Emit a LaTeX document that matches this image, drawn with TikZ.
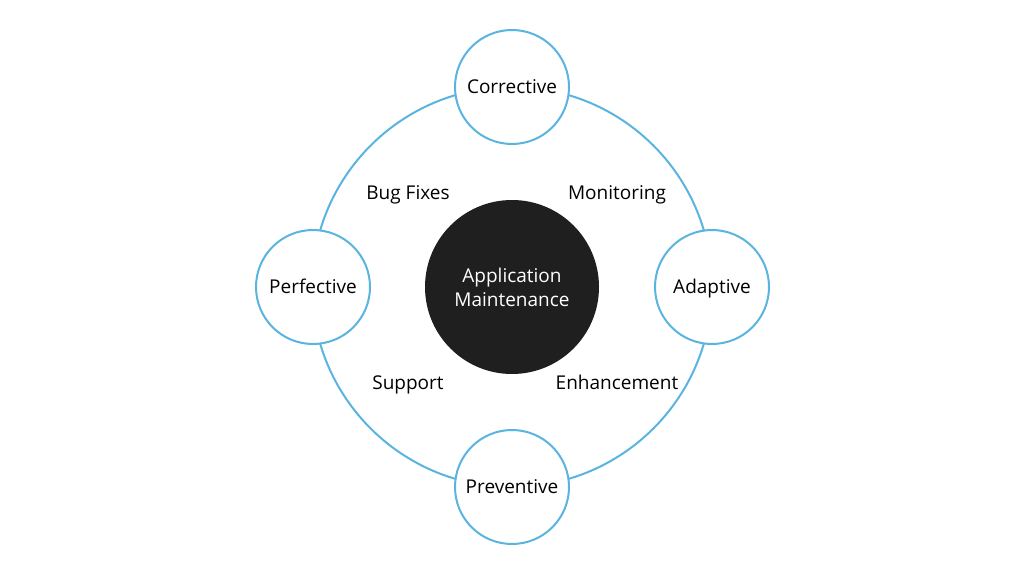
\documentclass[tikz,border=0pt]{standalone}
\usepackage{fontspec}
\setmainfont{Open Sans}
\definecolor{ringblue}{HTML}{5AB4E0}
\definecolor{hubdark}{HTML}{1F1F1F}
\begin{document}
\begin{tikzpicture}[x=1pt,y=-1pt,
  ring/.style={draw=ringblue,line width=2pt},
  txt/.style={font=\fontsize{19}{24}\selectfont},
  phase/.style={circle,ring,fill=white,minimum size=114pt,inner sep=0pt,txt,text height=17.5pt,text depth=4pt},
  hub/.style={circle,fill=hubdark,minimum size=174pt,inner sep=0pt,text=white,align=center,txt},
  lbl/.style={txt,text height=17.5pt,text depth=4pt,inner sep=0pt}]
\useasboundingbox (0,0) rectangle (1024,575);
\coordinate (c) at (512,287);
\draw[ring] (c) circle[radius=200pt];
\node[hub] (hub) at (c) {Application\\Maintenance};
\node[phase] (corr) at (512,87) {Corrective};
\node[phase] (adap) at (712,287) {Adaptive};
\node[phase] (perf) at (313,287) {Perfective};
\node[phase] (prev) at (512,487) {Preventive};
\node[lbl] (bug) at (408,193) {Bug Fixes};
\node[lbl] (mon) at (617,193) {Monitoring};
\node[lbl] (sup) at (408,383) {Support};
\node[lbl] (enh) at (617,383) {Enhancement};
\end{tikzpicture}
\end{document}
